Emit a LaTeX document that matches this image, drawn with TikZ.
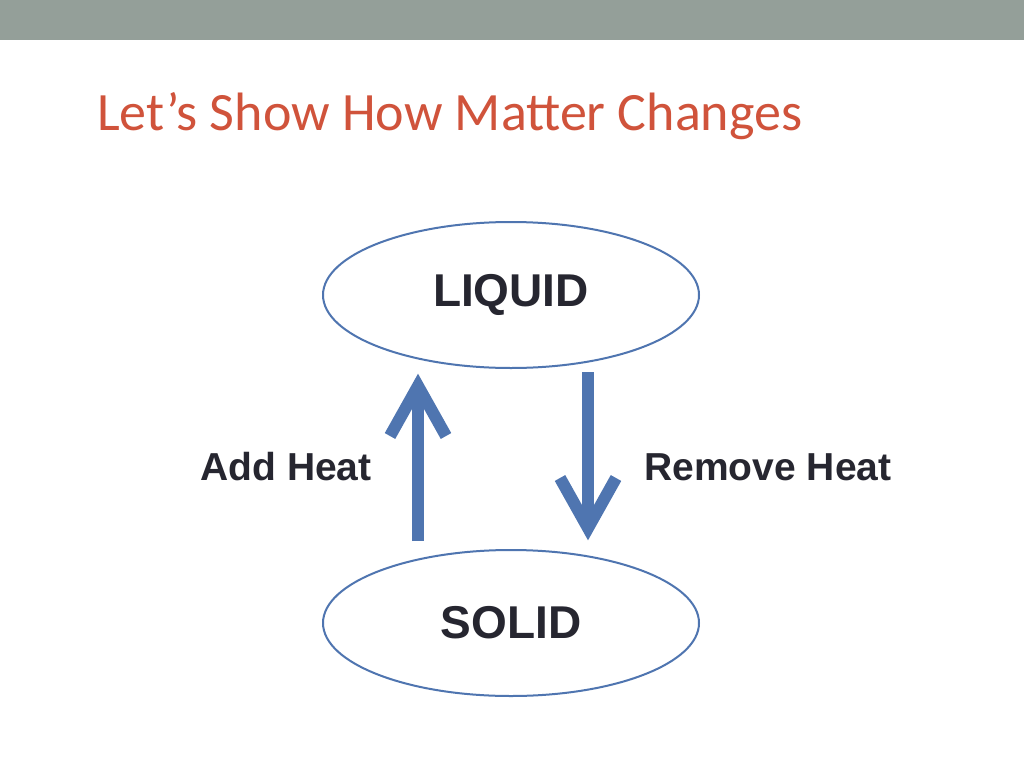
\documentclass[tikz,border=0pt]{standalone}
\usepackage{fontspec}
\setmainfont{Liberation Sans}
\newfontfamily\titlefont{Carlito}
\usetikzlibrary{shapes.geometric,arrows.meta}
\definecolor{bar}{HTML}{949F99}
\definecolor{ttl}{HTML}{D0533B}
\definecolor{blu}{HTML}{4F75B0}
\definecolor{txt}{HTML}{262630}
\tikzset{
 state/.style={ellipse,draw=blu,line width=2pt,minimum width=376pt,minimum height=146pt,font=\bfseries\fontsize{46}{50}\selectfont,text=txt},
 lbl/.style={font=\bfseries\fontsize{39}{44}\selectfont,text=txt},
 bigline/.style={draw=blu,line width=12pt,line join=miter}
}
\begin{document}
\begin{tikzpicture}[x=1pt,y=-1pt]
\useasboundingbox (0,0) rectangle (1024,768);
\fill[white] (0,0) rectangle (1024,768);
\fill[bar] (0,0) rectangle (1024,40);
\node[anchor=base west,text=ttl,font=\titlefont\fontsize{54}{60}\selectfont,inner sep=0] (title) at (97,130) {Let’s Show How Matter Changes};
\node[state] (liquid) at (511,295) {LIQUID};
\node[state] (solid) at (511,623) {SOLID};
\coordinate (ua) at (418,541);
\coordinate (ub) at (418,386);
\coordinate (da) at (588,372);
\coordinate (db) at (588,528);
\draw[bigline] (ua) -- (ub);
\draw[bigline] ([xshift=-28pt,yshift=-50pt]ub) -- (ub) -- ([xshift=28pt,yshift=-50pt]ub);
\draw[bigline] (da) -- (db);
\draw[bigline] ([xshift=-28pt,yshift=50pt]db) -- (db) -- ([xshift=28pt,yshift=50pt]db);
\node[lbl] (add) at (286,467) {Add Heat};
\node[lbl] (rem) at (768,467) {Remove Heat};
\end{tikzpicture}
\end{document}
